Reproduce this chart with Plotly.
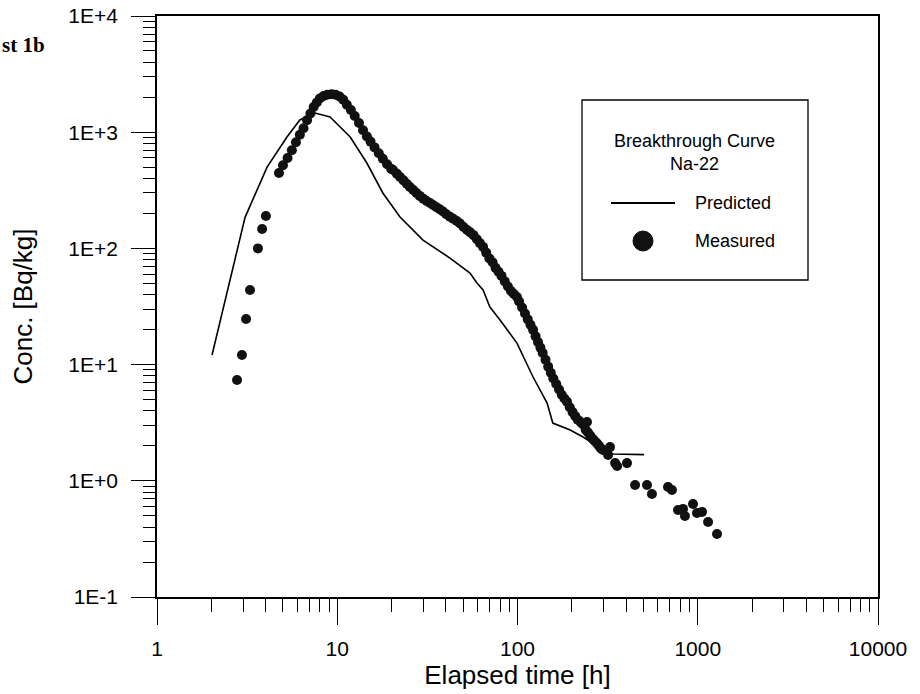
import plotly.graph_objects as go

# Predicted curve
pred_t = [2.02, 3.08, 4.08, 5.26, 6.2, 7.53, 9.12, 11.8, 14.6, 17.9, 22.3, 29.9, 42.2,
          54.5, 59.6, 64.4, 70.3, 80.0, 99.3, 122, 146, 157, 196, 231, 287, 339, 504]
pred_c = [12.1, 185, 501, 910, 1274, 1463, 1352, 910, 543, 300, 186, 118, 82.6,
          61.4, 50.4, 43.9, 31.3, 24.2, 15.3, 7.82, 4.67, 3.14, 2.74, 2.38, 1.92, 1.70, 1.68]

# Measured points
meas_t = [2.78, 2.96, 3.12, 3.28, 3.63, 3.83, 4.02,
          4.75, 5.0, 5.3, 5.6, 5.9, 6.2, 6.5, 6.8, 7.1, 7.4, 7.7, 8.0, 8.4, 8.8,
          9.3, 9.8, 10.3, 10.8, 11.3, 11.9, 12.5, 13.2, 13.9, 14.6, 15.3, 16.1,
          17.0, 17.9, 18.9, 19.9, 20.4, 21.4, 22.3, 23.3, 24.3, 25.3, 26.4, 27.5,
          28.7, 30.0, 31.3, 32.7, 34.0, 35.5, 37.0, 38.6, 40.3, 42.2, 44.0, 46.0,
          48.0, 50.2, 52.5, 54.5, 57.0, 59.5, 61.9, 64.4, 67.0, 69.8, 72.7, 75.5,
          78.5, 81.5, 85.0, 88.5, 92.0, 95.5, 99.3, 102, 106, 110, 114, 118, 122,
          126, 130, 134, 138, 143, 148, 153, 158, 164, 170, 176, 182, 188, 195,
          202, 209, 216, 224, 231, 239, 243, 246, 253, 261, 268, 276, 283, 290,
          298, 318, 326, 348, 357, 405, 449, 523, 557, 684, 719, 777, 828, 849,
          941, 990, 1056, 1141, 1279]
meas_c = [7.37, 12.1, 24.7, 43.9, 100, 147, 190,
          446, 520, 600, 700, 820, 950, 1080, 1270, 1450, 1650, 1800, 1950, 2050, 2100,
          2120, 2100, 2030, 1900, 1720, 1550, 1380, 1200, 1040, 920, 830, 740,
          660, 590, 530, 485, 473, 440, 411, 385, 360, 338, 318, 300,
          283, 268, 256, 246, 236, 226, 217, 208, 197, 187, 180, 172,
          164, 153, 144, 138, 130, 120, 111, 103, 92, 82, 76, 68,
          63, 58, 52, 47, 43, 40.5, 38.2, 35, 31, 27.5, 24.5, 22, 19.9,
          17.5, 15.6, 14, 12.6, 11, 9.6, 8.5, 7.6, 6.8, 6.1, 5.5, 5.1, 4.8, 4.3,
          3.9, 3.6, 3.35, 3.2, 3.05, 2.75, 3.21, 2.6, 2.45, 2.3, 2.2, 2.1, 2.0, 1.9,
          1.84, 1.67, 1.95, 1.42, 1.34, 1.42, 0.92, 0.92, 0.77, 0.885, 0.834, 0.561, 0.573, 0.498,
          0.631, 0.528, 0.54, 0.442, 0.348]

x_tickvals = [1, 10, 100, 1000, 10000]
x_ticktext = ["1", "10", "100", "1000", "10000"]
y_tickvals = [0.1, 1, 10, 100, 1000, 10000]
y_ticktext = ["1E-1", "1E+0", "1E+1", "1E+2", "1E+3", "1E+4"]

x_minor = [d * 10 ** k for k in range(0, 4) for d in range(2, 10)]
y_minor = [d * 10 ** k for k in range(-1, 4) for d in range(2, 10)]

FONT = "Liberation Sans, Arial, sans-serif"

fig = go.Figure()
fig.add_trace(go.Scatter(x=pred_t, y=pred_c, mode="lines", name="Predicted",
                         line=dict(color="black", width=1.6), showlegend=False))
fig.add_trace(go.Scatter(x=meas_t, y=meas_c, mode="markers", name="Measured",
                         marker=dict(color="#111111", size=10), showlegend=False))

L, R, T, B = 157, 42, 16, 97
W, H = 920, 694
pw, ph = W - L - R, H - T - B

def px(x):
    return (x - L) / pw

def py(y):
    return 1 - (y - T) / ph

fig.update_layout(
    width=W, height=H,
    margin=dict(l=L, r=R, t=T, b=B, autoexpand=False),
    paper_bgcolor="white", plot_bgcolor="white",
    font=dict(family=FONT, color="black"),
    showlegend=False,
    xaxis=dict(type="log", range=[0, 4], tickmode="array", tickvals=x_tickvals,
               ticktext=x_ticktext, ticks="outside", ticklen=26, tickwidth=1.3,
               tickcolor="black", showline=True, linecolor="black", linewidth=1.6,
               mirror=True, showgrid=False, zeroline=False, automargin=False,
               tickfont=dict(size=21, family=FONT), ticklabelstandoff=6,
               minor=dict(tickvals=x_minor, ticks="outside", ticklen=13,
                          tickwidth=1.2, tickcolor="black", showgrid=False),
               title=dict(text="Elapsed time [h]", font=dict(size=26, family=FONT),
                          standoff=2)),
    yaxis=dict(type="log", range=[-1, 4], tickmode="array", tickvals=y_tickvals,
               ticktext=y_ticktext, ticks="outside", ticklen=24, tickwidth=1.3,
               tickcolor="black", showline=True, linecolor="black", linewidth=1.6,
               mirror=True, showgrid=False, zeroline=False, automargin=False,
               tickfont=dict(size=21, family=FONT), ticklabelstandoff=9,
               minor=dict(tickvals=y_minor, ticks="outside", ticklen=12,
                          tickwidth=1.2, tickcolor="black", showgrid=False),
               title=dict(text="Conc. [Bq/kg]", font=dict(size=26, family=FONT),
                          standoff=28)),
)

# Panel title (cropped in the original)
fig.add_annotation(text="<b>st 1b</b>", xref="paper", yref="paper",
                   x=px(0), y=py(45), xanchor="left", yanchor="middle",
                   showarrow=False,
                   font=dict(family="Liberation Serif, Times New Roman, serif",
                             size=21, color="black"))

# Legend box
fig.add_shape(type="rect", xref="paper", yref="paper",
              x0=px(582), x1=px(808), y0=py(280), y1=py(100),
              line=dict(color="black", width=1.3), fillcolor="white", layer="above")
fig.add_annotation(text="Breakthrough Curve<br>Na-22", xref="paper", yref="paper",
                   x=px(694), y=py(153), xanchor="center", yanchor="middle",
                   showarrow=False, align="center",
                   font=dict(size=18, family=FONT, color="black"))
fig.add_shape(type="line", xref="paper", yref="paper",
              x0=px(611), x1=px(675), y0=py(203), y1=py(203),
              line=dict(color="black", width=1.8), layer="above")
fig.add_annotation(text="Predicted", xref="paper", yref="paper",
                   x=px(693), y=py(203), xanchor="left", yanchor="middle",
                   showarrow=False, font=dict(size=18, family=FONT, color="black"))
fig.add_shape(type="circle", xref="paper", yref="paper",
              x0=px(633), x1=px(653), y0=py(251), y1=py(231),
              line=dict(color="#111111", width=1), fillcolor="#111111", layer="above")
fig.add_annotation(text="Measured", xref="paper", yref="paper",
                   x=px(693), y=py(241), xanchor="left", yanchor="middle",
                   showarrow=False, font=dict(size=18, family=FONT, color="black"))

fig.write_html("out.html")
